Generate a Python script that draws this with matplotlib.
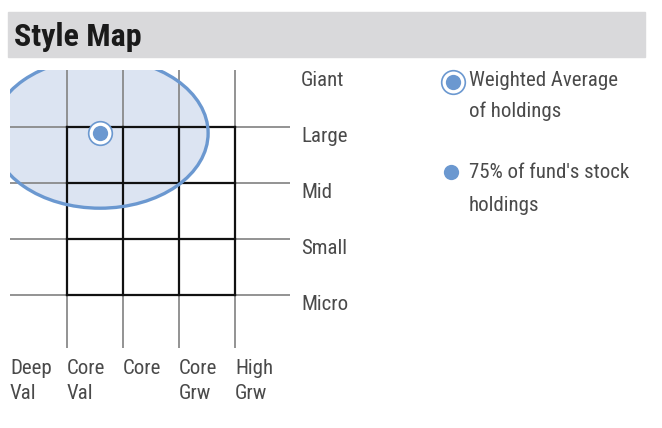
import matplotlib
matplotlib.use("Agg")
import matplotlib.pyplot as plt
from matplotlib.patches import Ellipse, Rectangle
from matplotlib import font_manager as fm

# ---- data ----
title = "Style Map"
size_labels = ["Micro", "Small", "Mid", "Large", "Giant"]      # y levels 0..4
size_levels = [0, 1, 2, 3, 4]
style_labels = ["Deep\nVal", "Core\nVal", "Core", "Core\nGrw", "High\nGrw"]
style_levels = [-1, 0, 1, 2, 3]
weighted_avg = (0.59, 2.89)          # style score, size score
zone_center = (0.59, 2.89)
zone_width = 3.86
zone_height = 2.68
legend_texts = ["Weighted Average\nof holdings", "75% of fund's stock\nholdings"]

avail = {f.name for f in fm.fontManager.ttflist}
cands = ["Roboto Condensed", "Liberation Sans Narrow", "DejaVu Sans Condensed", "Roboto"]
fam = [c for c in cands if c in avail] + ["DejaVu Sans"]
plt.rcParams['font.family'] = fam

W, H = 662, 428
fig = plt.figure(figsize=(W / 100, H / 100), dpi=100)

# header band
fig.patches.append(Rectangle((8 / W, 1 - 57 / H), (645 - 8) / W, 45 / H,
                             transform=fig.transFigure, color="#d9d9db", zorder=0))
fig.text(14 / W, 1 - 37 / H, title, fontsize=23, fontweight="bold", color="#1a1a1a",
         va="center", ha="left")

# axes: pixel 67 -> x=0, 56 px per unit; pixel 295 -> y=0
px0, px1, py0, py1 = 10, 290, 70, 348
ax = fig.add_axes([px0 / W, 1 - py1 / H, (px1 - px0) / W, (py1 - py0) / H])
ax.set_xlim((px0 - 67) / 56, (px1 - 67) / 56)
ax.set_ylim((295 - py1) / 56, (295 - py0) / 56)
ax.axis("off")

blue = "#6b98d0"
ax.add_patch(Ellipse(zone_center, zone_width, zone_height, facecolor="#dce4f2",
                     edgecolor="none", zorder=1))
ax.add_patch(Ellipse(zone_center, zone_width, zone_height, facecolor="none",
                     edgecolor=blue, lw=2.4, zorder=4))

gray = "#8a8a8a"
for v in style_levels[1:]:
    ax.axvline(v, color=gray, lw=1.3, zorder=2)
for v in size_levels[:-1]:
    ax.axhline(v, color=gray, lw=1.3, zorder=2)
for v in style_levels[1:]:
    ax.plot([v, v], [0, 3], color="#111111", lw=1.6, zorder=3, solid_capstyle="projecting")
for v in size_levels[:-1]:
    ax.plot([0, 3], [v, v], color="#111111", lw=1.6, zorder=3, solid_capstyle="projecting")

# weighted average marker
ax.plot(*weighted_avg, marker="o", ms=17, mfc="white", mec=blue, mew=1.2, zorder=5, ls="none")
ax.plot(*weighted_avg, marker="o", ms=11, mfc=blue, mec="none", zorder=6, ls="none")

txtc = "#4a4a4a"
fs = 15
xlab = (301 - 67) / 56
for lab, lv in zip(size_labels, size_levels):
    ax.text(xlab, lv - 9 / 56, lab, fontsize=fs, color=txtc, va="center", ha="left", clip_on=False)
for lab, lv in zip(style_labels, style_levels):
    x = lv if lv >= 0 else (px0 - 67) / 56
    ax.text(x, (295 - 359) / 56, lab, fontsize=fs, color=txtc, va="top", ha="left",
            linespacing=1.4, clip_on=False)

# legend
fig.lines.append(plt.Line2D([453 / W], [1 - 82 / H], marker="o", ms=17, mfc="white",
                            mec=blue, mew=1.2, transform=fig.transFigure))
fig.lines.append(plt.Line2D([453 / W], [1 - 82 / H], marker="o", ms=11, mfc=blue,
                            mec="none", transform=fig.transFigure))
fig.lines.append(plt.Line2D([451 / W], [1 - 172 / H], marker="o", ms=11, mfc=blue,
                            mec="none", transform=fig.transFigure))
fig.text(469 / W, 1 - 71 / H, legend_texts[0], fontsize=fs, color=txtc, va="top", ha="left", linespacing=1.75)
fig.text(469 / W, 1 - 163 / H, legend_texts[1], fontsize=fs, color=txtc, va="top", ha="left", linespacing=1.95)

fig.savefig("out.png", dpi=100)
